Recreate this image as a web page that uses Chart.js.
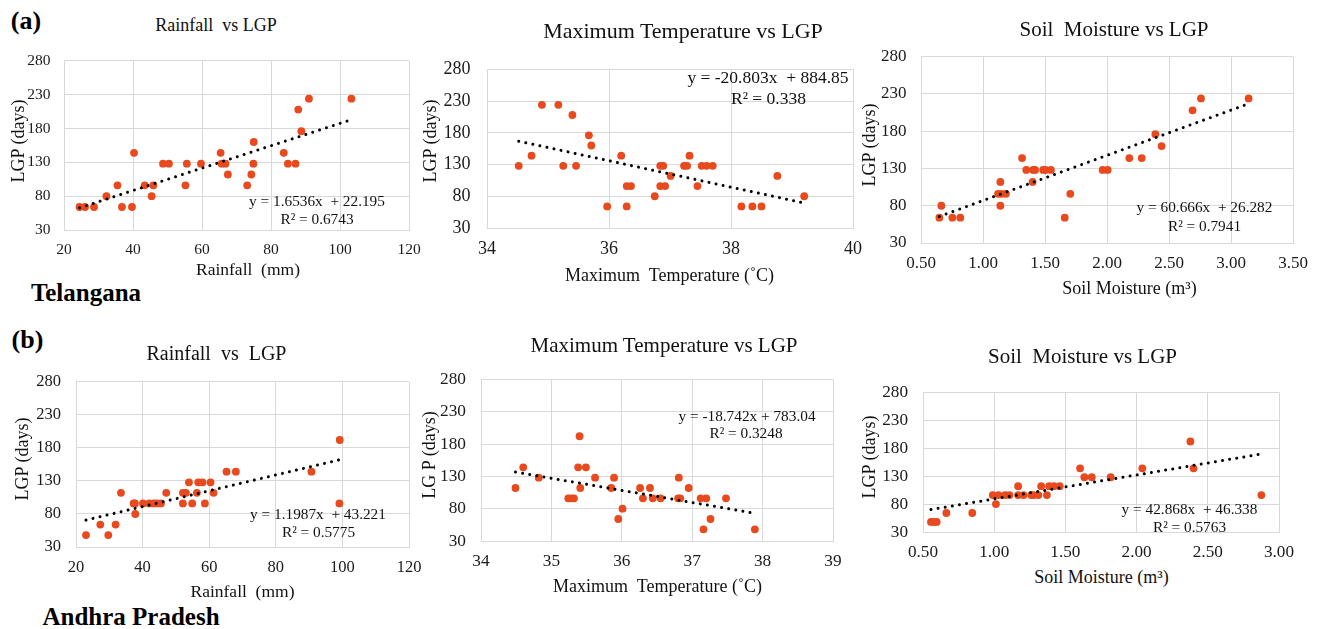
<!DOCTYPE html>
<html>
<head>
<meta charset="utf-8">
<script src="https://cdn.jsdelivr.net/npm/chart.js@4.4.1/dist/chart.umd.min.js"></script>
<style>
  html, body { margin:0; padding:0; background:#fff; }
  body { position:relative; width:1320px; height:629px; overflow:hidden; font-family:'Liberation Serif','Times New Roman',serif; }
  .t { position:absolute; transform:translate(-50%,-50%); white-space:pre; line-height:1; color:#111; }
  .r { transform:translate(-50%,-50%) rotate(-90deg); }
  .b { font-weight:bold; color:#000; }
</style>
</head>
<body>
<script>
// ---------------- DATA ----------------
const yTicks = [30, 80, 130, 180, 230, 280];
const yTickLabels = ["30", "80", "130", "180", "230", "280"];

// (a) Telangana
const tgRainX = [24.5,26.1,28.7,32.3,35.5,36.8,39.7,40.3,43.4,45.9,45.4,48.7,50.4,55.2,55.6,59.7,65.4,65.7,66.8,67.5,73.1,74.3,75.0,74.9,83.7,84.9,87.1,87.9,88.8,91.0,103.3];
const tgRainY = [64,64,64,80,96,64,64,144,96,96,80,128,128,96,128,128,144,128,128,112,96,112,160,128,144,128,128,208,176,224,224];
const tgRainTrendX = [24.5, 103.3];
const tgRainTrendY = [62.7, 193.0];
const tgRainTicks = [20, 40, 60, 80, 100, 120];
const tgRainTickLabels = ["20", "40", "60", "80", "100", "120"];

const tgTempX = [34.52,34.73,34.90,35.17,35.25,35.40,35.46,35.67,35.71,35.97,36.20,36.29,36.36,36.29,36.75,36.84,36.89,36.84,36.92,37.01,37.23,37.28,37.32,37.45,37.52,37.60,37.70,38.17,38.35,38.50,38.76,39.20];
const tgTempY = [128,144,224,224,128,208,128,176,160,64,144,96,96,64,80,128,128,96,96,112,128,128,144,96,128,128,128,64,64,64,112,80];
const tgTempTrendX = [34.52, 39.2];
const tgTempTrendY = [166.7, 69.4];
const tgTempTicks = [34, 36, 38, 40];
const tgTempTickLabels = ["34", "36", "38", "40"];

const tgSoilX = [0.648,0.664,0.753,0.817,1.140,1.121,1.148,1.140,1.185,1.315,1.349,1.405,1.42,1.40,1.485,1.505,1.548,1.659,1.704,1.965,2.005,2.18,2.28,2.39,2.44,2.69,2.758,3.142];
const tgSoilY = [64,80,64,64,112,96,96,80,96,144,128,128,128,112,128,128,128,64,96,128,128,144,144,176,160,208,224,224];
const tgSoilTrendX = [0.648, 3.142];
const tgSoilTrendY = [65.6, 216.9];
const tgSoilTicks = [0.5, 1.0, 1.5, 2.0, 2.5, 3.0, 3.5];
const tgSoilTickLabels = ["0.50", "1.00", "1.50", "2.00", "2.50", "3.00", "3.50"];

// (b) Andhra Pradesh
const apRainX = [23.0,27.3,29.7,31.9,33.5,37.3,37.7,37.8,40.1,42.0,43.3,44.3,45.5,47.1,52.1,52.1,53.0,53.9,54.9,56.3,56.7,58.0,58.7,60.4,61.3,65.2,68.0,90.7,99.2,99.1];
const apRainY = [48,64,48,64,112,96,96,80,96,96,96,96,96,112,96,112,112,128,96,112,128,128,96,128,112,144,144,144,192,96];
const apRainTrendX = [23.0, 99.2];
const apRainTrendY = [70.8, 162.1];
const apRainTicks = [20, 40, 60, 80, 100, 120];
const apRainTickLabels = ["20", "40", "60", "80", "100", "120"];

const apTempX = [34.49,34.60,34.82,35.40,35.38,35.49,35.41,35.24,35.28,35.32,35.62,35.85,35.89,35.95,36.01,36.26,36.30,36.40,36.44,36.55,36.81,36.80,36.83,36.95,37.12,37.20,37.16,37.26,37.48,37.89];
const apTempY = [112,144,128,192,144,144,112,96,96,96,128,112,128,64,80,112,96,112,96,96,128,96,96,112,96,96,48,64,96,48];
const apTempTrendX = [34.49, 37.89];
const apTempTrendY = [136.6, 72.9];
const apTempTicks = [34, 35, 36, 37, 38, 39];
const apTempTickLabels = ["34", "35", "36", "37", "38", "39"];

const apSoilX = [0.556,0.575,0.596,0.664,0.846,0.99,1.012,1.03,1.077,1.107,1.168,1.168,1.206,1.26,1.276,1.31,1.33,1.37,1.386,1.42,1.46,1.603,1.633,1.685,1.818,2.04,2.378,2.40,2.876];
const apSoilY = [48,48,48,64,64,96,80,96,96,96,112,96,96,96,96,96,112,96,112,112,112,144,128,128,128,144,192,144,96];
const apSoilTrendX = [0.556, 2.876];
const apSoilTrendY = [70.2, 169.6];
const apSoilTicks = [0.5, 1.0, 1.5, 2.0, 2.5, 3.0];
const apSoilTickLabels = ["0.50", "1.00", "1.50", "2.00", "2.50", "3.00"];

// ---------------- LAYOUT ----------------
const GRID = '#d9d9d9';
const TICK = '#1a1a1a';
const DOT = '#E8491D';
const PADL = 50, PADT = 15, PADR = 28, PADB = 35;

const panels = [
  { l:64,  t:53,  w:345, h:177, xs:tgRainX, ys:tgRainY, tx:tgRainTrendX, ty:tgRainTrendY, xt:tgRainTicks, xl:tgRainTickLabels, fs:15.5, yPad:13.5, xPad:10.5 },
  { l:487, t:57,  w:366, h:171, xs:tgTempX, ys:tgTempY, tx:tgTempTrendX, ty:tgTempTrendY, xt:tgTempTicks, xl:tgTempTickLabels, fs:18,   yPad:16.5, xPad:10 },
  { l:921, t:47,  w:372, h:196, xs:tgSoilX, ys:tgSoilY, tx:tgSoilTrendX, ty:tgSoilTrendY, xt:tgSoilTicks, xl:tgSoilTickLabels, fs:17,   yPad:14.5, xPad:10.3 },
  { l:76,  t:372, w:333, h:175, xs:apRainX, ys:apRainY, tx:apRainTrendX, ty:apRainTrendY, xt:apRainTicks, xl:apRainTickLabels, fs:16.5, yPad:15,   xPad:10.4 },
  { l:481, t:369, w:352, h:172, xs:apTempX, ys:apTempY, tx:apTempTrendX, ty:apTempTrendY, xt:apTempTicks, xl:apTempTickLabels, fs:17.3, yPad:15,   xPad:9.7 },
  { l:923, t:382, w:356, h:150, xs:apSoilX, ys:apSoilY, tx:apSoilTrendX, ty:apSoilTrendY, xt:apSoilTicks, xl:apSoilTickLabels, fs:17.2, yPad:15,   xPad:10.5 }
];

Chart.defaults.font.family = "'Liberation Serif','Times New Roman',serif";

function pts(xs, ys) { return xs.map((x, i) => ({ x: x, y: ys[i] })); }

function makeChart(p) {
  const c = document.createElement('canvas');
  const W = p.w + PADL + PADR, H = p.h + PADT + PADB;
  c.width = W; c.height = H;
  c.style.cssText = 'position:absolute;left:' + (p.l - PADL) + 'px;top:' + (p.t - PADT) + 'px;width:' + W + 'px;height:' + H + 'px';
  document.body.appendChild(c);
  new Chart(c, {
    type: 'scatter',
    data: {
      datasets: [
        { type: 'line', data: pts(p.tx, p.ty), borderColor: '#000', borderWidth: 3,
          borderDash: [0.01, 7.2], borderCapStyle: 'round', pointRadius: 0, fill: false, tension: 0, order: 0 },
        { data: pts(p.xs, p.ys), backgroundColor: DOT, borderWidth: 0, pointRadius: 3.9, pointHoverRadius: 3.9, order: 1 }
      ]
    },
    options: {
      responsive: false, animation: false, devicePixelRatio: 1, events: [],
      layout: { padding: { left: 0, top: PADT, right: PADR, bottom: 0 } },
      plugins: { legend: { display: false }, tooltip: { enabled: false } },
      scales: {
        x: {
          type: 'linear', min: p.xt[0], max: p.xt[p.xt.length - 1],
          afterBuildTicks: s => { s.ticks = p.xt.map(v => ({ value: v })); },
          afterFit: s => { s.height = PADB; },
          grid: { color: GRID, lineWidth: 1, drawTicks: false },
          border: { color: GRID, width: 1 },
          ticks: { padding: p.xPad, font: { size: p.fs }, color: TICK, maxRotation: 0, autoSkip: false,
                   callback: (v, i) => p.xl[i] }
        },
        y: {
          type: 'linear', min: yTicks[0], max: yTicks[yTicks.length - 1],
          afterBuildTicks: s => { s.ticks = yTicks.map(v => ({ value: v })); },
          afterFit: s => { s.width = PADL; },
          grid: { color: GRID, lineWidth: 1, drawTicks: false },
          border: { color: GRID, width: 1 },
          ticks: { padding: p.yPad, font: { size: p.fs }, color: TICK, autoSkip: false,
                   callback: (v, i) => yTickLabels[i] }
        }
      }
    }
  });
}

panels.forEach(makeChart);

// ---------------- TEXT ----------------
const texts = [
  ['(a)', 26, 21, 26, 'b'],
  ['Telangana', 86, 292, 25, 'b'],
  ['(b)', 27.5, 340, 26, 'b'],
  ['Andhra Pradesh', 131, 616.3, 25, 'b'],

  ['Rainfall  vs LGP', 216, 25, 18, ''],
  ['Maximum Temperature vs LGP', 683, 31.2, 22, ''],
  ['Soil  Moisture vs LGP', 1114, 28.7, 21, ''],
  ['Rainfall  vs  LGP', 216.5, 353, 20, ''],
  ['Maximum Temperature vs LGP', 664, 345.3, 21, ''],
  ['Soil  Moisture vs LGP', 1082.5, 356.3, 21, ''],

  ['Rainfall  (mm)', 248, 269.7, 17.5, ''],
  ['LGP (days)', 18, 141, 18, 'r'],
  ['Maximum  Temperature (\u02DAC)', 669.5, 274.7, 18, ''],
  ['LGP (days)', 430, 141, 18, 'r'],
  ['Soil Moisture (m\u00B3)', 1129.5, 287.5, 18, ''],
  ['LGP (days)', 869, 145, 18, 'r'],
  ['Rainfall  (mm)', 242.5, 591.7, 17.5, ''],
  ['LGP (days)', 21.7, 459, 18, 'r'],
  ['Maximum  Temperature (\u02DAC)', 657.5, 585.5, 18, ''],
  ['LG P (days)', 429, 455, 18, 'r'],
  ['Soil Moisture (m\u00B3)', 1101.5, 576.7, 18, ''],
  ['LGP (days)', 869, 457, 18, 'r'],

  ['y = 1.6536x  + 22.195', 317, 200.5, 15.3, ''],
  ['R\u00B2 = 0.6743', 317, 218.5, 15.3, ''],
  ['y = -20.803x  + 884.85', 768, 78, 17.5, ''],
  ['R\u00B2 = 0.338', 768.5, 98.7, 17.5, ''],
  ['y = 60.666x  + 26.282', 1204.5, 207.2, 15.3, ''],
  ['R\u00B2 = 0.7941', 1204.5, 225.7, 15.3, ''],
  ['y = 1.1987x  + 43.221', 318, 513.8, 15.3, ''],
  ['R\u00B2 = 0.5775', 318.5, 532, 15.3, ''],
  ['y = -18.742x + 783.04', 747, 415.7, 15.3, ''],
  ['R\u00B2 = 0.3248', 746, 433, 15.3, ''],
  ['y = 42.868x  + 46.338', 1189.5, 509, 15.3, ''],
  ['R\u00B2 = 0.5763', 1189.5, 527, 15.3, '']
];
texts.forEach(([s, x, y, fs, cls]) => {
  const d = document.createElement('div');
  d.className = 't ' + cls;
  d.textContent = s;
  d.style.left = x + 'px';
  d.style.top = y + 'px';
  d.style.fontSize = fs + 'px';
  document.body.appendChild(d);
});
</script>
</body>
</html>
